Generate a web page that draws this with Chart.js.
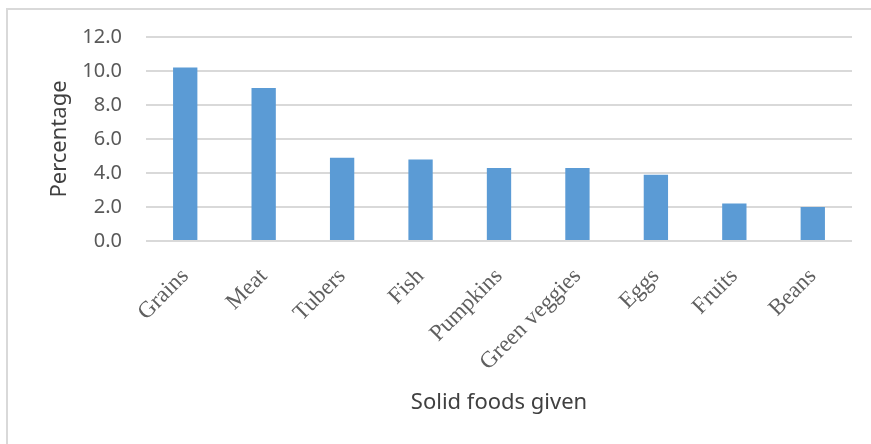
<!DOCTYPE html>
<html lang="en">
  <head>
    <meta charset="UTF-8" />
    <title>Solid foods given</title>
    <script src="https://cdn.jsdelivr.net/npm/chart.js"></script>
    <style>
      html, body { margin: 0; padding: 0; background: #ffffff; }
      #wrap { position: relative; width: 871px; height: 444px; overflow: hidden; }
      /* light frame around the chart, only top and left edges show */
      #frame {
        position: absolute; left: 6px; top: 8px; width: 900px; height: 500px;
        border-left: 2px solid #d9d9d9; border-top: 2px solid #d9d9d9;
      }
      #chart { position: absolute; left: 0; top: 0; }
    </style>
  </head>
  <body>
    <div id="wrap">
      <div id="frame"></div>
      <canvas id="chart" width="871" height="444"></canvas>
    </div>
    <script>
      // Data
      const foods = ["Grains", "Meat", "Tubers", "Fish", "Pumpkins", "Green veggies", "Eggs", "Fruits", "Beans"];
      const percentages = [10.2, 9.0, 4.9, 4.8, 4.3, 4.3, 3.9, 2.2, 2.0];
      const yTicks = [0, 2, 4, 6, 8, 10, 12];

      const ctx = document.getElementById("chart");
      new Chart(ctx, {
        type: "bar",
        data: {
          labels: foods,
          datasets: [
            {
              data: percentages,
              backgroundColor: "#5b9bd5",
              borderWidth: 0,
              categoryPercentage: 1.0,
              barPercentage: 0.31,
            },
          ],
        },
        options: {
          responsive: false,
          animation: false,
          layout: { padding: { top: 37, right: 19, left: 0, bottom: 0 } },
          plugins: {
            legend: { display: false },
            tooltip: { enabled: false },
          },
          scales: {
            x: {
              grid: { display: false },
              border: { display: false },
              ticks: {
                minRotation: 45,
                maxRotation: 45,
                padding: 14,
                color: "#5f5f5f",
                font: { family: "Liberation Serif", size: 23 },
              },
              title: {
                display: true,
                text: "Solid foods given",
                color: "#404040",
                font: { family: "Noto Sans", size: 22 },
                padding: { top: 0, bottom: 28 },
              },
              afterFit: (scale) => { scale.height = 203; },
            },
            y: {
              min: yTicks[0],
              max: yTicks[yTicks.length - 1],
              border: { display: false },
              grid: { color: "#d9d9d9", lineWidth: 2, drawTicks: false },
              ticks: {
                stepSize: yTicks[1] - yTicks[0],
                padding: 24,
                color: "#595959",
                font: { family: "Noto Sans", size: 20 },
                callback: (v) => v.toFixed(1),
              },
              title: {
                display: true,
                text: "Percentage",
                color: "#404040",
                font: { family: "Noto Sans", size: 22 },
                padding: { top: 47, bottom: 0 },
              },
              afterFit: (scale) => { scale.width = 146; },
            },
          },
        },
      });
    </script>
  </body>
</html>
